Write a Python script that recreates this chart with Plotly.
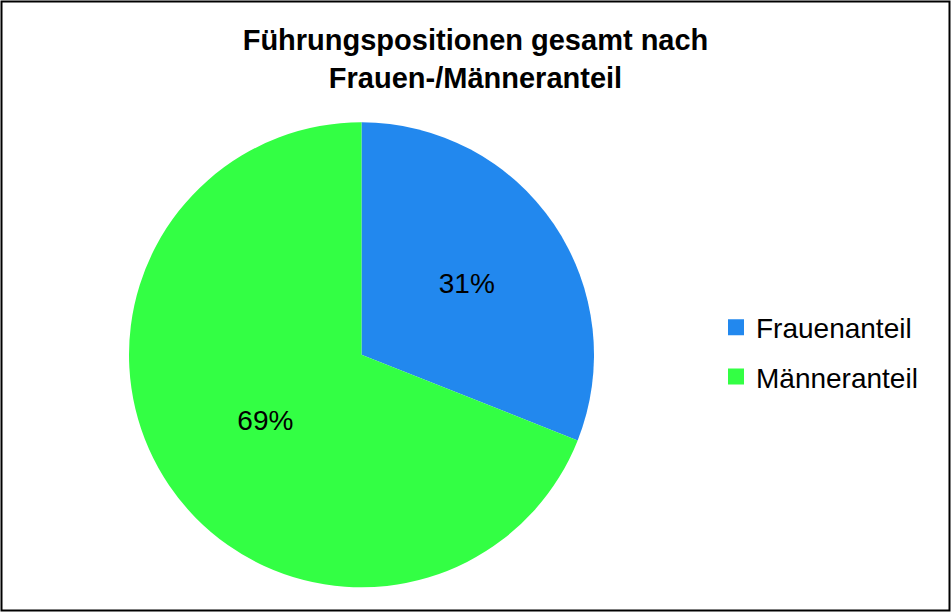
import plotly.graph_objects as go

labels = ["Frauenanteil", "Männeranteil"]
values = [31, 69]
colors = ["#2288EE", "#33FF44"]
title_text = "Führungspositionen gesamt nach<br>Frauen-/Männeranteil"

W, H = 951, 612
cx, cy, r = 361.5, 354.8, 232.5
FONT = "Liberation Sans, Arial, sans-serif"

fig = go.Figure()
fig.add_trace(go.Pie(
    labels=labels,
    values=values,
    sort=False,
    direction="clockwise",
    rotation=0,
    marker=dict(colors=colors, line=dict(width=0)),
    texttemplate="%{percent:.0%}",
    textposition="inside",
    insidetextorientation="horizontal",
    textfont=dict(family=FONT, size=28, color="black"),
    domain=dict(x=[(cx - r) / W, (cx + r) / W], y=[(H - cy - r) / H, (H - cy + r) / H]),
    hoverinfo="label+percent",
    showlegend=False,
))

# legend entries (one per category, spaced like the original)
for lab, col in zip(labels, colors):
    fig.add_trace(go.Scatter(
        x=[None], y=[None], mode="markers", name=lab, legendgroup=lab,
        marker=dict(symbol="square", size=16, color=col),
        hoverinfo="skip",
    ))

fig.update_layout(
    width=W, height=H,
    margin=dict(l=0, r=0, t=0, b=0),
    paper_bgcolor="white",
    plot_bgcolor="white",
    xaxis=dict(visible=False),
    yaxis=dict(visible=False),
    font=dict(family=FONT, color="black"),
    title=dict(text="<b>" + title_text + "</b>", x=0.5, xanchor="center", y=1 - 50 / H, yanchor="middle",
               font=dict(size=29, family=FONT, color="black")),
    legend=dict(x=716 / W, y=1 - 352 / H, xanchor="left", yanchor="middle",
                font=dict(size=28, family=FONT, color="black"),
                tracegroupgap=10, itemsizing="trace", traceorder="grouped"),
    shapes=[dict(type="rect", xref="paper", yref="paper", x0=1.5 / W, x1=1 - 1.5 / W, y0=1.5 / H, y1=1 - 1.5 / H,
                 line=dict(color="black", width=2), fillcolor="rgba(0,0,0,0)")],
)

fig.write_html("out.html", config={"displayModeBar": False},
               post_script="document.body.style.margin='0';document.body.style.overflow='hidden';")
